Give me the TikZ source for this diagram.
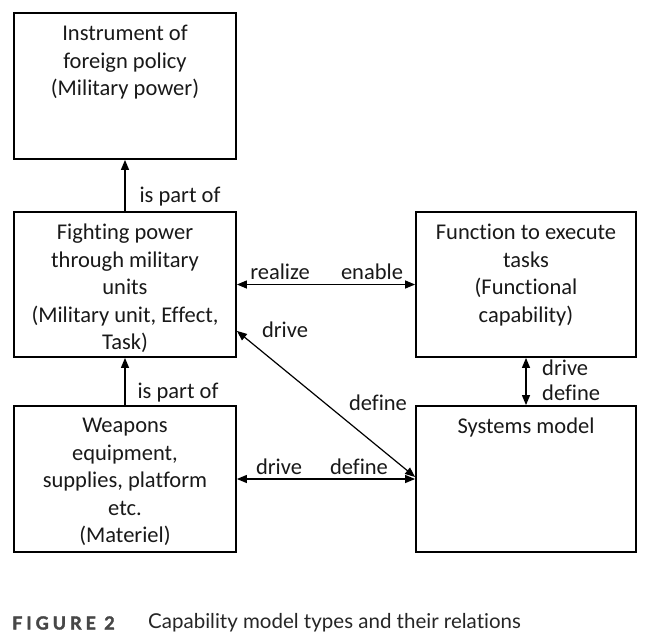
\documentclass[tikz,border=0pt]{standalone}
\usepackage{fontspec}
\setmainfont{Carlito}[Ligatures=NoCommon]
\newfontfamily\capfont{Lato}[Ligatures=NoCommon]
\usetikzlibrary{arrows.meta,positioning}
\begin{document}
\begin{tikzpicture}[x=1pt,y=-1pt,
  box/.style={draw=black,line width=1.8pt,minimum width=222pt,minimum height=146pt,inner sep=0pt},
  boxtext/.style={anchor=north,align=center,inner sep=0pt,font=\fontsize{22.5}{27.5}\selectfont,text=black!90},
  lbl/.style={inner sep=0pt,font=\fontsize{22.5}{27.5}\selectfont,text=black!90},
  arr/.style={line width=1.2pt,{Triangle[length=10pt,width=8pt]}-{Triangle[length=10pt,width=8pt]}},
  uarr/.style={line width=1.2pt,-{Triangle[length=10pt,width=8pt]}}]
\useasboundingbox (0,0) rectangle (649,634);
\fill[white] (0,0) rectangle (649,634);
% boxes
\node[box] (A) at (125,86) {};
\node[box,minimum height=145pt] (B) at (125,284.5) {};
\node[box,minimum width=220pt,minimum height=145pt] (C) at (526,284.5) {};
\node[box] (D) at (125,479) {};
\node[box,minimum width=220pt] (E) at (526,479) {};
% box texts
\node[boxtext] (tA) at ([yshift=-13pt]A.north) {Instrument of\\foreign policy\\(Military power)};
\node[boxtext] (tB) at ([yshift=-13pt]B.north) {Fighting power\\through military\\units\\(Military unit, Effect,\\Task)};
\node[boxtext] (tC) at ([yshift=-13pt]C.north) {Function to execute\\tasks\\(Functional\\capability)};
\node[boxtext] (tD) at ([yshift=-13pt]D.north) {Weapons\\equipment,\\supplies, platform\\etc.\\(Materiel)};
\node[boxtext] (tE) at ([yshift=-13pt]E.north) {Systems model};
% connectors
\draw[uarr] (B.north) -- (A.south);
\draw[uarr] (D.north) -- (B.south);
\draw[arr] (B.east) -- (C.west);
\draw[arr] (C.south) -- (E.north);
\draw[arr] (D.east) -- (E.west);
\draw[arr] ([yshift=27pt]B.south east) -- ([yshift=2pt]E.west);
% labels
\node[lbl] (l1) at (180,197) {is part of};
\node[lbl] (l2) at (178,393) {is part of};
\node[lbl] (l3) at (280,272) {realize};
\node[lbl] (l4) at (372,272) {enable};
\node[lbl] (l5) at (285,330) {drive};
\node[lbl] (l6) at (378,403) {define};
\node[lbl,anchor=west] (l7) at (542,368) {drive};
\node[lbl,anchor=west] (l8) at (542,393) {define};
\node[lbl] (l9) at (279,467) {drive};
\node[lbl] (l10) at (359,467) {define};
% caption
\node[anchor=west,inner sep=0pt,font={\capfont\bfseries\fontsize{18}{20}\selectfont\addfontfeature{LetterSpace=22,FakeBold=2}},text=black!72] (fig) at (12,623) {FIGURE 2};
\node[anchor=west,inner sep=0pt,font={\capfont\fontsize{20.5}{22}\selectfont},text=black!85] (cap) at (148,623) {Capability model types and their relations};
\end{tikzpicture}
\end{document}
